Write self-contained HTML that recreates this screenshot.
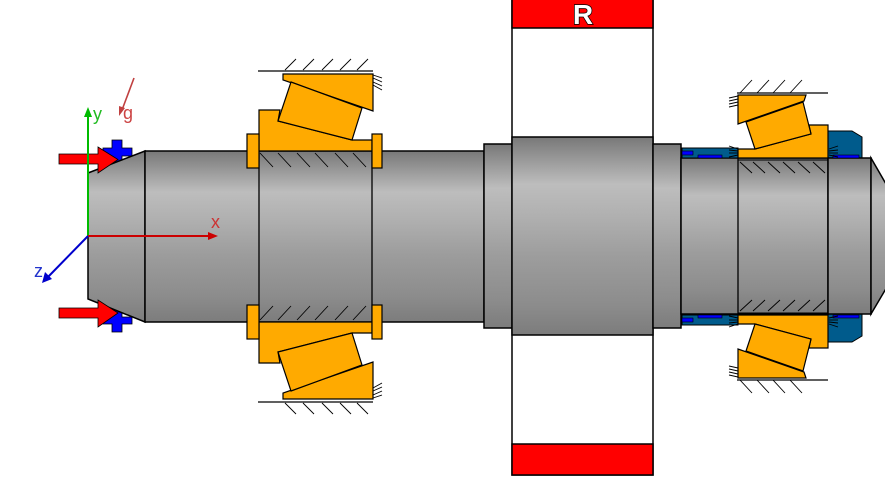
<!DOCTYPE html>
<html><head><meta charset="utf-8"><style>
html,body{margin:0;padding:0;background:#fff;}
svg{display:block;}
text{font-family:"Liberation Sans",sans-serif;}
</style></head><body>
<svg width="885" height="487" viewBox="0 0 885 487" xmlns="http://www.w3.org/2000/svg">
<defs>
<linearGradient id="sh" x1="0" y1="0" x2="0" y2="1">
<stop offset="0" stop-color="#787878"/>
<stop offset="0.1" stop-color="#959595"/>
<stop offset="0.24" stop-color="#bdbdbd"/>
<stop offset="0.4" stop-color="#b0b0b0"/>
<stop offset="0.6" stop-color="#9d9d9d"/>
<stop offset="0.85" stop-color="#8c8c8c"/>
<stop offset="1" stop-color="#7c7c7c"/>
</linearGradient>
<g id="bearL">
<polygon points="283,74 373,74 373,111 283,80" fill="#ffaa00" stroke="#000" stroke-width="1.2"/>
<polygon points="259,151 259,110 280,110 278,121 352,140 372,140 372,151" fill="#ffaa00" stroke="#000" stroke-width="1.2"/>
<polygon points="291,82 362,108 352,140 278,121" fill="#ffaa00" stroke="#000" stroke-width="1.2"/>
<line x1="258" y1="71" x2="373" y2="71" stroke="#000" stroke-width="1.3"/>
<g stroke="#000" stroke-width="0.9">
<line x1="285" y1="70" x2="296" y2="59"/><line x1="303" y1="70" x2="314" y2="59"/>
<line x1="322" y1="70" x2="333" y2="59"/><line x1="340" y1="70" x2="351" y2="59"/>
<line x1="357" y1="70" x2="368" y2="59"/>
<line x1="373" y1="75" x2="382" y2="78"/><line x1="373" y1="78" x2="382" y2="82"/>
<line x1="373" y1="82" x2="382" y2="86"/><line x1="373" y1="85" x2="382" y2="90"/>
<line x1="260" y1="153" x2="273" y2="167"/><line x1="278" y1="153" x2="291" y2="167"/>
<line x1="297" y1="153" x2="310" y2="167"/><line x1="315" y1="153" x2="328" y2="167"/>
<line x1="335" y1="153" x2="348" y2="167"/><line x1="353" y1="153" x2="366" y2="167"/>
</g>
<rect x="247" y="134" width="12" height="34" fill="#ffaa00" stroke="#000" stroke-width="1.2"/>
<rect x="372" y="134" width="10" height="34" fill="#ffaa00" stroke="#000" stroke-width="1.2"/>
</g>
<g id="bearR">
<rect x="682" y="148" width="56" height="10" fill="#005b8c" stroke="#000" stroke-width="1"/>
<rect x="682" y="151" width="11" height="4" fill="#0000ff" stroke="#000" stroke-width="0.6"/>
<rect x="698" y="155" width="24" height="3" fill="#0000ff" stroke="#000" stroke-width="0.6"/>
<rect x="833" y="155" width="26" height="3" fill="#0000ff" stroke="#000" stroke-width="0.6"/>
<polygon points="738,95 806,95 804,101 738,124" fill="#ffaa00" stroke="#000" stroke-width="1.2"/>
<polygon points="738,158 738,149 755,149 811,134 809,125 828,125 828,158" fill="#ffaa00" stroke="#000" stroke-width="1.2"/>
<polygon points="746,122 803,102 811,134 755,149" fill="#ffaa00" stroke="#000" stroke-width="1.2"/>
<line x1="737" y1="93" x2="828" y2="93" stroke="#000" stroke-width="1.3"/>
<line x1="738" y1="160" x2="828" y2="160" stroke="#000" stroke-width="1"/>
<g stroke="#000" stroke-width="0.9">
<line x1="740" y1="93" x2="752" y2="80"/><line x1="757" y1="93" x2="769" y2="80"/>
<line x1="773" y1="93" x2="785" y2="80"/><line x1="790" y1="93" x2="802" y2="80"/>
<line x1="729" y1="98" x2="738" y2="96"/><line x1="729" y1="101" x2="738" y2="99"/>
<line x1="729" y1="104" x2="738" y2="102"/><line x1="729" y1="107" x2="738" y2="105"/>
<line x1="729" y1="146" x2="738" y2="149"/><line x1="729" y1="150" x2="738" y2="151"/>
<line x1="729" y1="153" x2="738" y2="153"/><line x1="729" y1="157" x2="738" y2="155"/>
<line x1="829" y1="149" x2="838" y2="146"/><line x1="829" y1="151" x2="838" y2="150"/>
<line x1="829" y1="153" x2="838" y2="153"/><line x1="829" y1="155" x2="838" y2="157"/>
<line x1="740" y1="162" x2="752" y2="173"/><line x1="753" y1="162" x2="765" y2="173"/>
<line x1="768" y1="162" x2="780" y2="173"/><line x1="783" y1="162" x2="795" y2="173"/>
<line x1="798" y1="162" x2="810" y2="173"/><line x1="813" y1="162" x2="825" y2="173"/>
</g>
</g>
</defs>

<!-- wheel -->
<rect x="512" y="-1" width="141" height="476" fill="#fff" stroke="#000" stroke-width="1.5"/>
<rect x="512" y="-1" width="141" height="29" fill="#ff0000" stroke="#000" stroke-width="1.5"/>
<rect x="512" y="444" width="141" height="31" fill="#ff0000" stroke="#000" stroke-width="1.5"/>
<text x="583" y="24" font-size="28" font-weight="bold" fill="#fff" stroke="#000" stroke-width="1.5" paint-order="stroke" text-anchor="middle">R</text>

<!-- nut -->
<polygon points="828,131 852,131 862,137 862,336 852,342 828,342" fill="#005b8c" stroke="#000" stroke-width="1"/>

<!-- blue plus (behind) -->
<g fill="#0000ff" stroke="#000" stroke-width="0.8">
<path d="M103,148 H112 V140 H122 V148 H132 V156 H122 V166 H112 V156 H103 Z"/>
<path d="M103,317 H112 V308 H122 V317 H132 V324 H122 V332 H112 V324 H103 Z"/>
</g>

<!-- shaft -->
<g stroke="#000" stroke-width="1.5" fill="url(#sh)">
<polygon points="88,173 145,151 145,322 88,299"/>
<rect x="145" y="151" width="339" height="171"/>
<rect x="484" y="144" width="28" height="184"/>
<rect x="512" y="137" width="141" height="198"/>
<rect x="653" y="144" width="28" height="184"/>
<rect x="681" y="158" width="147" height="156"/>
<rect x="828" y="158" width="43" height="156"/>
<polygon points="871,158 897,203 897,270 871,314"/>
</g>
<g stroke="#000" stroke-width="1.3">
<line x1="259" y1="151" x2="259" y2="322"/>
<line x1="372" y1="151" x2="372" y2="322"/>
<line x1="738" y1="158" x2="738" y2="314"/>
</g>

<use href="#bearL"/>
<use href="#bearL" transform="matrix(1,0,0,-1,0,473)"/>
<use href="#bearR"/>
<use href="#bearR" transform="matrix(1,0,0,-1,0,473)"/>

<!-- red arrows -->
<g fill="#ff0000" stroke="#000" stroke-width="0.8">
<path d="M59,154 H98 V147 L118,159.5 L98,173 V164 H59 Z"/>
<path d="M59,308 H98 V300 L118,313 L98,327 V318 H59 Z"/>
</g>

<!-- axes -->
<line x1="88" y1="236" x2="88" y2="112" stroke="#00bb00" stroke-width="2"/>
<polygon points="84,117 88,107 92,117" fill="#00bb00"/>
<line x1="88" y1="236" x2="212" y2="236" stroke="#cc0000" stroke-width="2"/>
<polygon points="208,232 218,236 208,240" fill="#cc0000"/>
<line x1="88" y1="236" x2="47" y2="278" stroke="#0000cc" stroke-width="2"/>
<polygon points="42,283 45,272 52,279" fill="#0000cc"/>
<line x1="134" y1="78" x2="122" y2="110" stroke="#c04040" stroke-width="1.6"/>
<polygon points="119,116 119,106 125,108" fill="#c04040"/>
<text x="93" y="120" font-size="18" fill="#22bb22">y</text>
<text x="211" y="228" font-size="18" fill="#cc3333">x</text>
<text x="34" y="277" font-size="18" fill="#2233cc">z</text>
<text x="123" y="119" font-size="18" fill="#cc4444">g</text>
</svg>
</body></html>
